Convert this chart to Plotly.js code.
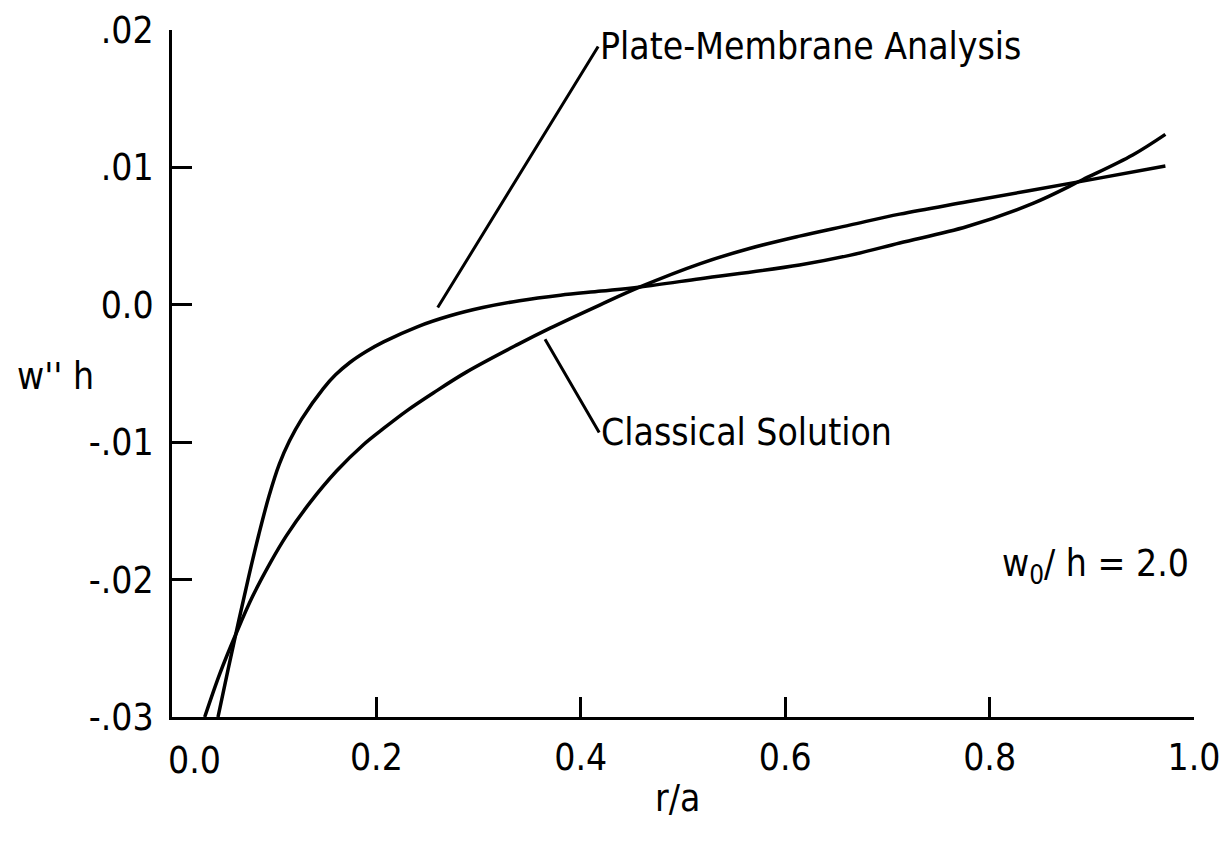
<!DOCTYPE html>
<html>
<head>
<meta charset="utf-8">
<script src="https://cdn.plot.ly/plotly-3.0.1.min.js"></script>
<style>
html,body{margin:0;padding:0;background:#fff;}
#chart{width:1225px;height:851px;}
</style>
</head>
<body>
<div id="chart"></div>
<script>
// r/a values and w''h values
const plateX = [0.045, 0.055, 0.065, 0.075, 0.085, 0.095, 0.105, 0.115, 0.127, 0.148, 0.160, 0.174, 0.190, 0.207, 0.240, 0.272, 0.304, 0.340, 0.380, 0.420, 0.458, 0.517, 0.614, 0.663, 0.712, 0.778, 0.843, 0.891, 0.940, 0.972];
const plateY = [-0.0300, -0.0265, -0.0231, -0.0198, -0.0167, -0.0139, -0.0116, -0.0099, -0.0083, -0.0061, -0.0051, -0.0042, -0.0034, -0.0027, -0.0016, -0.0008, -0.0002, 0.0003, 0.0007, 0.0010, 0.0013, 0.0019, 0.0029, 0.0036, 0.0045, 0.0057, 0.0074, 0.0091, 0.0109, 0.0124];

const classicalX = [0.032, 0.047, 0.064, 0.079, 0.096, 0.112, 0.135, 0.161, 0.187, 0.207, 0.230, 0.256, 0.288, 0.338, 0.370, 0.419, 0.458, 0.517, 0.565, 0.614, 0.663, 0.712, 0.778, 0.891, 0.972];
const classicalY = [-0.0300, -0.0268, -0.0237, -0.0212, -0.0188, -0.0168, -0.0144, -0.0121, -0.0102, -0.0090, -0.0077, -0.0064, -0.0049, -0.0029, -0.0017, 0.0000, 0.0013, 0.0030, 0.0041, 0.0050, 0.0058, 0.0066, 0.0075, 0.0090, 0.0101];

const xTickVals = [0.2, 0.4, 0.6, 0.8, 1.0];
const xTickText = ["0.2", "0.4", "0.6", "0.8", "1.0"];
const yTickVals = [0.02, 0.01, 0.0, -0.01, -0.02, -0.03];
const yTickText = [".02", ".01", "0.0", "-.01", "-.02", "-.03"];

const FONT = "'DejaVu Sans Condensed', 'Liberation Sans Narrow', 'Noto Sans', sans-serif";
const FS = 37;

const traces = [
  {x: plateX, y: plateY, mode: 'lines', name: 'Plate-Membrane Analysis',
   line: {color: '#000', width: 3.5, shape: 'spline', smoothing: 1}, hoverinfo: 'skip'},
  {x: classicalX, y: classicalY, mode: 'lines', name: 'Classical Solution',
   line: {color: '#000', width: 3.5, shape: 'spline', smoothing: 1}, hoverinfo: 'skip'}
];

const layout = {
  width: 1225, height: 851,
  margin: {l: 172, r: 31, t: 30, b: 134},
  paper_bgcolor: '#fff', plot_bgcolor: '#fff',
  showlegend: false,
  font: {family: FONT, size: FS, color: '#000'},
  xaxis: {
    range: [0, 1], showgrid: false, zeroline: false,
    showline: true, linecolor: '#000', linewidth: 3,
    ticks: 'inside', ticklen: 20, tickwidth: 3, tickcolor: '#000',
    tickmode: 'array', tickvals: xTickVals, ticktext: xTickText,
    tickfont: {family: FONT, size: FS, color: '#000'},
    ticklabelstandoff: 6
  },
  yaxis: {
    range: [-0.03, 0.02], showgrid: false, zeroline: false,
    showline: true, linecolor: '#000', linewidth: 3,
    ticks: 'inside', ticklen: 20, tickwidth: 3, tickcolor: '#000',
    tickmode: 'array', tickvals: yTickVals, ticktext: yTickText,
    tickfont: {family: FONT, size: FS, color: '#000'},
    ticklabelstandoff: 8
  },
  annotations: [
    {text: '0.0', xref: 'x', yref: 'paper', x: 0, y: 0, xanchor: 'center', yanchor: 'top',
     xshift: 22, yshift: -20, showarrow: false, font: {family: FONT, size: FS}},
    {text: 'r/a', xref: 'paper', yref: 'paper', x: 0.495, y: 0, xanchor: 'center', yanchor: 'top',
     yshift: -58, showarrow: false, font: {family: FONT, size: FS}},
    {text: "w'' h", xref: 'paper', yref: 'paper', x: 0, y: 0.495, xanchor: 'right', yanchor: 'middle',
     xshift: -76, showarrow: false, font: {family: FONT, size: FS}},
    {text: 'Plate-Membrane Analysis', xref: 'x', yref: 'y', x: 0.26, y: -0.0002,
     ax: 0.417, ay: 0.0188, axref: 'x', ayref: 'y',
     showarrow: true, arrowhead: 0, arrowwidth: 3, arrowcolor: '#000',
     xanchor: 'left', yanchor: 'middle', standoff: 0, startstandoff: 0,
     font: {family: FONT, size: FS}},
    {text: 'Classical Solution', xref: 'x', yref: 'y', x: 0.365, y: -0.0025,
     ax: 0.418, ay: -0.0093, axref: 'x', ayref: 'y',
     showarrow: true, arrowhead: 0, arrowwidth: 3, arrowcolor: '#000',
     xanchor: 'left', yanchor: 'middle', standoff: 0, startstandoff: 0,
     font: {family: FONT, size: FS}},
    {text: 'w<sub>0</sub>/ h = 2.0', xref: 'paper', yref: 'paper', x: 0.997, y: 0.22,
     xanchor: 'right', yanchor: 'middle', showarrow: false, font: {family: FONT, size: FS}}
  ]
};

Plotly.newPlot('chart', traces, layout, {staticPlot: true, displayModeBar: false});
</script>
</body>
</html>
